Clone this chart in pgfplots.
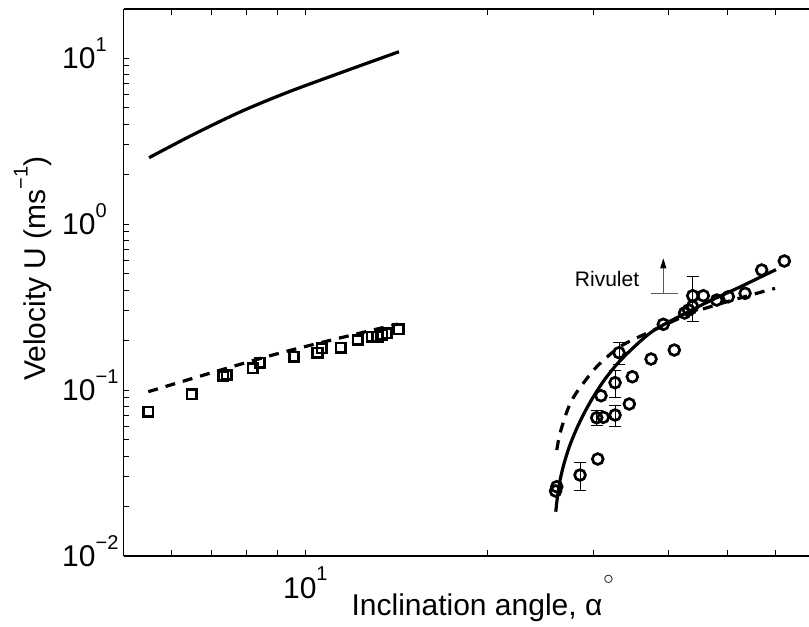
\documentclass[border=0pt]{standalone}
\usepackage{fontspec}
\setmainfont{Liberation Sans}
\usepackage{pgfplots}
\pgfplotsset{compat=1.18}
\usetikzlibrary{calc,arrows.meta}
\newcommand\sups[1]{\raisebox{0.58em}{\fontsize{20}{20}\selectfont #1}}
\begin{document}
\begin{tikzpicture}
\begin{axis}[
  name=ax,
  scale only axis, width=685.5pt, height=547pt,
  xmode=log, ymode=log,
  xmin=5, xmax=68.22, ymin=0.01, ymax=19.74,
  axis x line*=box, axis y line*=left,
  xtick pos=both, ytick pos=left,
  xticklabel pos=lower, yticklabel pos=left,
  tick align=inside,
  xtick={10}, xticklabels={10\sups{1}},
  minor xtick={6,7,8,9,20,30,40,50,60},
  ytick={0.01,0.1,1,10},
  yticklabels={10\sups{−2},10\sups{−1},10\sups{0},10\sups{1}},
  minor ytick={0.02,0.03,0.04,0.05,0.06,0.07,0.08,0.09,0.2,0.3,0.4,0.5,0.6,0.7,0.8,0.9,2,3,4,5,6,7,8,9},
  major tick length=6pt, minor tick length=6pt,
  every tick/.style={black, line width=1pt},
  axis line style={line width=1.3pt},
  tick label style={font=\fontsize{30}{36}\selectfont},
  xticklabel style={anchor=base, inner sep=0pt, yshift=-42pt},
  yticklabel style={anchor=base west, inner sep=0pt, xshift=-61.5pt, yshift=-10.5pt},
  label style={font=\fontsize{30}{36}\selectfont},
  xlabel={Inclination angle, α\hspace{1pt}\raisebox{31pt}{\fontsize{21}{21}\selectfont$\circ$}},
  xlabel style={at={(axis description cs:0.524,-0.1079)}, anchor=base, inner sep=0pt},
  ylabel={Velocity U (ms\sups{−1})},
  ylabel style={at={(axis description cs:-0.1145,0.5256)}, anchor=base, inner sep=0pt},
]
% upper solid line
\addplot[black, line width=3.2pt, smooth] coordinates {
(5.511,2.508) (6.501,3.437) (7.796,4.728) (9.326,6.197) (11.41,8.122) (14.29,10.91)};
% lower-left dashed line
\addplot[black, line width=3.2pt, dash pattern=on 10pt off 8pt, smooth] coordinates {
(5.496,0.0977) (8.966,0.165) (14.23,0.2497)};
% squares
\addplot[only marks, mark=square, mark size=4.8pt, mark options={black, line width=2.7pt}] coordinates {
(5.496,0.07402) (6.486,0.0942) (7.315,0.1214) (7.411,0.1231) (8.184,0.1351) (8.414,0.1461)
(9.578,0.1587) (10.48,0.1678) (10.65,0.1783) (11.45,0.1798) (12.21,0.2000) (12.88,0.2094)
(13.16,0.2094) (13.4,0.2150) (13.64,0.2196) (14.26,0.2320)};
% right solid curve
\addplot[black, line width=3.2pt, smooth] coordinates {
(25.98,0.01849) (26.15,0.02278) (26.41,0.0287) (26.82,0.03617) (27.36,0.04556) (28.07,0.05741)
(28.94,0.07236) (29.99,0.09118) (31.27,0.1149) (32.90,0.1447) (35.06,0.1824) (37.84,0.2298)
(43.07,0.2962) (47.09,0.3484) (52.12,0.4133) (56.96,0.4828) (60.16,0.5312)};
% right dashed curve
\addplot[black, line width=3.2pt, dash pattern=on 10pt off 8pt, smooth] coordinates {
(26.08,0.0435) (26.36,0.05356) (26.92,0.06905) (27.48,0.0835) (28.31,0.1) (30.37,0.1381)
(33.19,0.1823) (36.75,0.2196) (45.03,0.3033) (59.94,0.4099)};
% circles
\addplot[only marks, mark=o, mark size=5.4pt, mark options={black, line width=2.7pt}] coordinates {
(26.08,0.02615) (25.96,0.02464) (30.49,0.0384) (31.14,0.06847) (34.39,0.08235) (30.87,0.0924)
(34.79,0.1202) (37.36,0.1537) (40.82,0.1741) (39.15,0.2487) (42.45,0.2910) (43.10,0.3033)
(43.76,0.3184) (45.60,0.3699) (47.99,0.3484) (50.16,0.3648) (53.46,0.3824) (56.96,0.5283)
(62.10,0.5985)};
% circles with error bars
\addplot[only marks, mark=o, mark size=5.4pt, mark options={black, line width=2.7pt},
  error bars/.cd, y dir=both, y explicit,
  error bar style={line width=0.8pt, black},
  error mark options={rotate=90, mark size=6pt, line width=0.8pt, black}]
  table[x index=0, y index=1, y error index=2] {
28.50 0.03076 0.006
30.37 0.06809 0.0072
32.57 0.07069 0.0102
32.57 0.1107 0.021
33.07 0.1678 0.026
43.79 0.3699 0.112
};
% annotation
\node[font=\fontsize{21}{24}\selectfont, anchor=base, inner sep=0pt] at (axis cs:31.59,0.4192) {Rivulet};
\draw[black!65, line width=1pt] (axis cs:37.36,0.3824) -- (axis cs:41.4,0.3824);
\draw[black!65, line width=1pt, -{Triangle[length=10pt,width=6pt,color=black]}] (axis cs:39.15,0.3824) -- (axis cs:39.15,0.6215);
\end{axis}
\pgfresetboundingbox
\path[use as bounding box] ($(ax.south west)+(-123.5pt,-70pt)$) rectangle ($(ax.north east)+(0pt,9pt)$);
\end{tikzpicture}
\end{document}
